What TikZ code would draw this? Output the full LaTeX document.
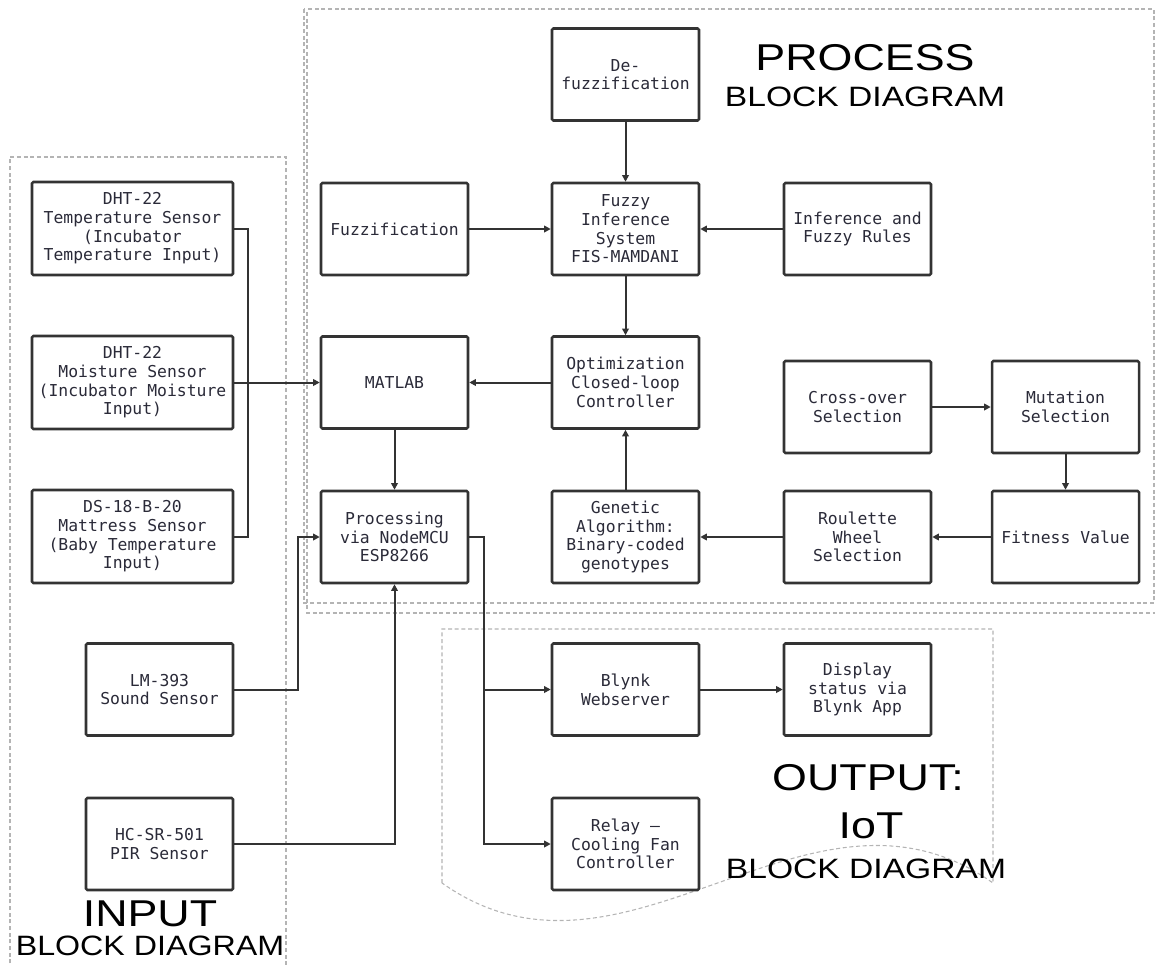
\documentclass[tikz,border=0pt]{standalone}
\usepackage{fontspec}
\usepackage{graphicx}
\setmainfont{Liberation Sans}
\newfontfamily\bxmono{DejaVu Sans Mono}
\usetikzlibrary{arrows.meta}
\newcommand\bxfont{\bxmono\fontsize{12.3pt}{14pt}\selectfont}
\newcommand\bigtitle{\fontsize{28pt}{30pt}\selectfont}
\newcommand\subtitle{\fontsize{21pt}{23pt}\selectfont}
\definecolor{linec}{HTML}{333333}
\definecolor{txtc}{HTML}{2A2A38}
\definecolor{zonec}{HTML}{B4B4B4}
\begin{document}
\begin{tikzpicture}[x=0.75pt,y=-0.75pt,
  blk/.style={draw=linec, line width=1.9pt, rounded corners=1pt, minimum width=110.25pt, minimum height=69pt, inner sep=1pt, align=center, text=txtc, font=\bxfont},
  wideblk/.style={blk, minimum width=150.75pt, minimum height=69.75pt},
  conn/.style={draw=linec, line width=1.5pt},
  arr/.style={conn, -{Triangle[length=5pt,width=5pt]}},
  zone/.style={draw=zonec, line width=0.8pt, dash pattern=on 3pt off 2pt},
  ttl/.style={anchor=base, inner sep=0pt, text=black}]
\useasboundingbox (0,0) rectangle (1155,964);

% zones
\draw[zone] (10,970) -- (10,157) -- (286,157) -- (286,970);
\draw[zone] (304,9) rectangle (1154,603);
\draw[zone] (307,12) -- (307,613) -- (1155,613);
\draw[zone] (442,883) -- (442,629) -- (993,629) -- (993,883)
  .. controls (809,753) and (626,1013) .. (442,883);

% input blocks
\node[wideblk] (temp) at (132.5,228.5) {DHT-22\\Temperature Sensor\\(Incubator\\Temperature Input)};
\node[wideblk] (moist) at (132.5,382.5) {DHT-22\\Moisture Sensor\\(Incubator Moisture\\Input)};
\node[wideblk] (ds) at (132.5,536.5) {DS-18-B-20\\Mattress Sensor\\(Baby Temperature\\Input)};
\node[blk] (sound) at (159.5,689.5) {LM-393\\Sound Sensor};
\node[blk] (pir) at (159.5,844) {HC-SR-501\\PIR Sensor};

% process blocks
\node[blk] (defuzz) at (625.5,74.5) {De-\\fuzzification};
\node[blk] (fuzz) at (394.5,229) {Fuzzification};
\node[blk] (fis) at (625.5,229) {Fuzzy\\Inference\\System\\FIS-MAMDANI};
\node[blk] (infer) at (857.5,229) {Inference and\\Fuzzy Rules};
\node[blk] (matlab) at (394.5,382.5) {MATLAB};
\node[blk] (opt) at (625.5,382.5) {Optimization\\Closed-loop\\Controller};
\node[blk] (cross) at (857.5,407) {Cross-over\\Selection};
\node[blk] (mut) at (1065.5,407) {Mutation\\Selection};
\node[blk] (proc) at (394.5,537) {Processing\\via NodeMCU\\ESP8266};
\node[blk] (gen) at (625.5,537) {Genetic\\Algorithm:\\Binary-coded\\genotypes};
\node[blk] (roul) at (857.5,537) {Roulette\\Wheel\\Selection};
\node[blk] (fit) at (1065.5,537) {Fitness Value};

% output blocks
\node[blk] (blynk) at (625.5,689.5) {Blynk\\Webserver};
\node[blk] (disp) at (857.5,689.5) {Display\\status via\\Blynk App};
\node[blk] (relay) at (625.5,844) {Relay –\\Cooling Fan\\Controller};

% titles
\node[ttl, font=\bigtitle] (tproc) at (865,70) {\scalebox{1.2}[1]{PROCESS}};
\node[ttl, font=\subtitle] (tprocb) at (865,106) {\scalebox{1.2}[1]{BLOCK DIAGRAM}};
\node[ttl, font=\bigtitle] (tin) at (150,926) {\scalebox{1.2}[1]{INPUT}};
\node[ttl, font=\subtitle] (tinb) at (150,955) {\scalebox{1.15}[1]{BLOCK DIAGRAM}};
\node[ttl, font=\bigtitle] (tout) at (868,790) {\scalebox{1.2}[1]{OUTPUT:}};
\node[ttl, font=\bigtitle] (tiot) at (871,838) {\scalebox{1.2}[1]{IoT}};
\node[ttl, font=\subtitle] (toutb) at (866,878) {\scalebox{1.2}[1]{BLOCK DIAGRAM}};

% connectors: input
\coordinate (b1) at (248,228.5);
\coordinate (b2) at (248,536.5);
\draw[conn] (temp.east) -- (b1) -- (b2) -- (ds.east);
\draw[arr] (moist.east) -- (matlab.west);
\coordinate (sb) at (298,689.5);
\draw[arr] (sound.east) -- (sb) |- (proc.west);
\draw[arr] (pir.east) -| (proc.south);

% process
\draw[arr] (matlab.south) -- (proc.north);
\draw[arr] (opt.west) -- (matlab.east);
\draw[arr] (defuzz.south) -- (fis.north);
\draw[arr] (fuzz.east) -- (fis.west);
\draw[arr] (infer.west) -- (fis.east);
\draw[arr] (fis.south) -- (opt.north);
\draw[arr] (gen.north) -- (opt.south);
\draw[arr] (roul.west) -- (gen.east);
\draw[arr] (fit.west) -- (roul.east);
\draw[arr] (cross.east) -- (mut.west);
\draw[arr] (mut.south) -- (fit.north);

% output
\coordinate (pc) at (484,537);
\draw[arr] (proc.east) -- (pc) |- (blynk.west);
\draw[arr] (pc) |- (relay.west);
\draw[arr] (blynk.east) -- (disp.west);
\end{tikzpicture}
\end{document}
